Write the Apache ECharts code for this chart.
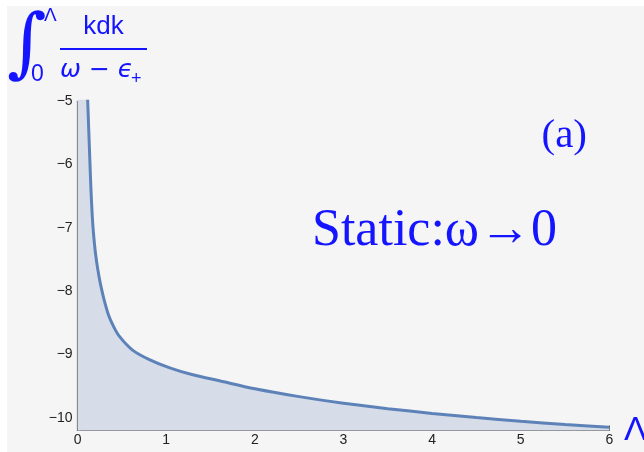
<!DOCTYPE html>
<html>
<head>
<meta charset="utf-8">
<script src="https://cdn.jsdelivr.net/npm/echarts@6/dist/echarts.min.js"></script>
<style>
  html, body { margin: 0; padding: 0; background: #ffffff; }
  #chart { width: 644px; height: 452px; }
</style>
</head>
<body>
<div id="chart"></div>
<script>
// Cutoff Λ values (x) and integral values (y)
const lambdaValues = [0, 0.05, 0.09, 0.114, 0.127, 0.14, 0.151, 0.165, 0.18, 0.2, 0.227, 0.26, 0.3, 0.35, 0.4, 0.47, 0.62, 0.81, 1.04, 1.3, 1.6, 2, 2.5, 3, 3.5, 4, 4.5, 5, 5.5, 6];
const integralValues = [0, -2, -4.1, -5.0, -5.5, -6.0, -6.4, -6.8, -7.1, -7.38, -7.65, -7.9, -8.14, -8.38, -8.54, -8.71, -8.93, -9.08, -9.21, -9.32, -9.415, -9.54, -9.665, -9.77, -9.855, -9.93, -9.995, -10.055, -10.105, -10.15];
const yTickValues = [-5, -6, -7, -8, -9, -10];
const xTickLabels = ['0', '1', '2', '3', '4', '5', '6'];

const seriesData = lambdaValues.map((x, i) => [x, integralValues[i]]);
const blue = '#1414ff';
const lineColor = '#5d82b8';
const fillColor = '#d6dde9';
const axisColor = '#555555';

const chart = echarts.init(document.getElementById('chart'), null, { renderer: 'canvas' });

const fmtMinus = v => (v < 0 ? '\u2212' + Math.abs(v) : String(v));

chart.setOption({
  backgroundColor: '#ffffff',
  animation: false,
  grid: { left: 77.6, right: 34.7, top: 101.3, bottom: 21.5, containLabel: false },
  xAxis: {
    type: 'value', min: 0, max: 6, interval: 1,
    axisLine: { show: true, onZero: false, lineStyle: { color: axisColor, width: 1.2 } },
    axisTick: { show: true, inside: true, length: 5, lineStyle: { color: axisColor } },
    minorTick: { show: true, splitNumber: 5, length: 3, lineStyle: { color: '#777777' } },
    splitLine: { show: false },
    axisLabel: { color: '#222', fontSize: 14, fontFamily: 'Liberation Sans', margin: 3,
      formatter: v => xTickLabels[Math.round(v)] }
  },
  yAxis: [
    {
      type: 'value', min: -10.2, max: -5,
      axisLine: { show: true, onZero: false, lineStyle: { color: axisColor, width: 1.2 } },
      axisTick: { show: true, inside: true, length: 5, customValues: yTickValues, lineStyle: { color: axisColor } },
      splitLine: { show: false },
      axisLabel: { color: '#222', fontSize: 14, fontFamily: 'Liberation Sans', margin: 5,
        customValues: yTickValues, formatter: fmtMinus }
    },
    {
      type: 'value', min: -10.2, max: -5, interval: 0.2, position: 'left',
      axisLine: { show: false },
      axisTick: { show: true, inside: true, length: 3, lineStyle: { color: '#777777' } },
      splitLine: { show: false },
      axisLabel: { show: false }
    }
  ],
  graphic: [
    { type: 'rect', z: -100, silent: true, shape: { x: 7, y: 6, width: 640, height: 450 }, style: { fill: '#f5f5f5' } },
    // y-axis title: integral expression
    { type: 'text', x: 7, y: 10, style: { text: '\u222B', font: 'italic 76px "DejaVu Serif"', fill: blue, textVerticalAlign: 'top' } },
    { type: 'text', x: 31, y: 63, style: { text: '0', font: '23px "Liberation Sans"', fill: blue, textVerticalAlign: 'top' } },
    { type: 'text', x: 44, y: 6, style: { text: '\u039B', font: '19px "Liberation Sans"', fill: blue, textVerticalAlign: 'top' } },
    { type: 'text', x: 103.5, y: 14, style: { text: 'kdk', font: '26px "Liberation Sans"', fill: blue, textAlign: 'center', textVerticalAlign: 'top' } },
    { type: 'rect', shape: { x: 60, y: 48, width: 87, height: 2 }, style: { fill: blue } },
    { type: 'text', x: 60, y: 58, style: { text: '\u03C9 \u2212 \u03F5', font: 'italic 25px "DejaVu Sans"', fill: blue, textVerticalAlign: 'top' } },
    { type: 'text', x: 131, y: 70, style: { text: '+', font: '18px "Liberation Sans"', fill: blue, textVerticalAlign: 'top' } },
    // x-axis title
    { type: 'text', x: 624, y: 414, style: { text: '\u039B', font: '34px "Liberation Sans"', fill: blue, textVerticalAlign: 'top' } },
    // annotations
    { type: 'text', x: 587, y: 136, style: { text: '(a)', font: '41px "Liberation Serif"', fill: blue, textAlign: 'right', textVerticalAlign: 'middle' } },
    { type: 'text', x: 312, y: 231, style: { text: 'Static:\u03C9\u21920', font: '52px "Liberation Serif"', fill: blue, textVerticalAlign: 'middle' } }
  ],
  series: [{
    type: 'line',
    data: seriesData,
    showSymbol: false,
    smooth: 0.3,
    clip: true,
    lineStyle: { color: lineColor, width: 3 },
    areaStyle: { color: fillColor, opacity: 1, origin: 'start' },
    z: 2
  }]
});
</script>
</body>
</html>
